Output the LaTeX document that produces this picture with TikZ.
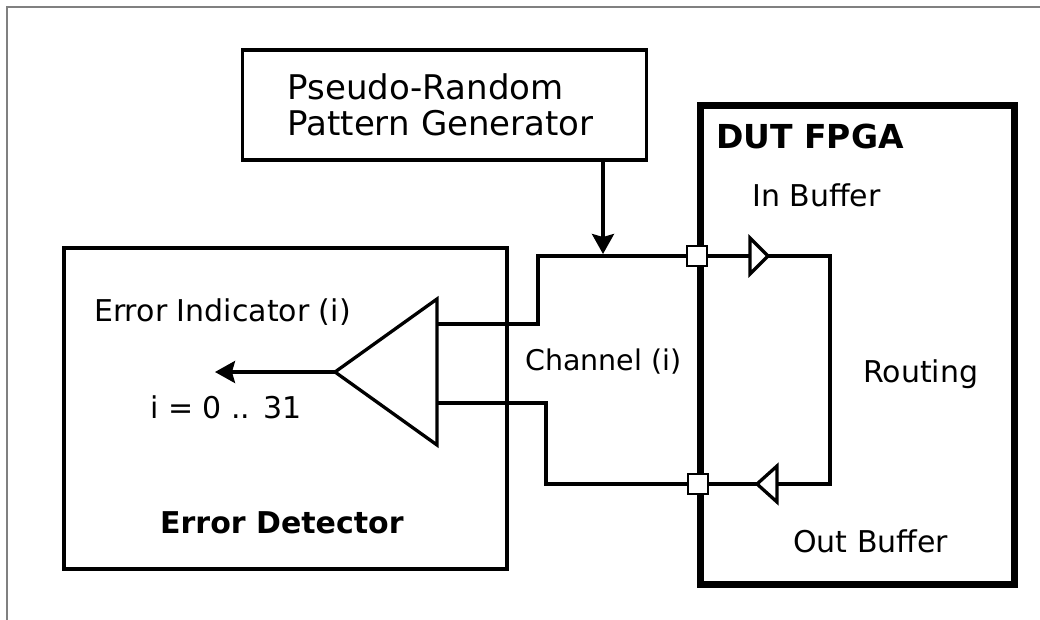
\documentclass[tikz,border=0pt]{standalone}
\usepackage{fontspec}
\setmainfont{DejaVu Sans}
\usetikzlibrary{arrows.meta}

\begin{document}
\begin{tikzpicture}
          [x = 1pt, y = -1pt, >= {Stealth[length=20pt, width=22pt, inset=3pt]},
           wire/.style = {line width = 3.3pt},
           blk/.style = {draw, line width = 3.3pt, inner sep = 0pt},
           lbl/.style = {font = \fontsize{30}{36}\selectfont, anchor = base west, inner sep = 0pt},
           pad/.style = {draw, fill = white, line width = 2.8pt, minimum size = 20pt, inner sep = 0pt}]
          \useasboundingbox (0,0) rectangle (1040,620);
          \draw[gray, line width = 1.5pt] (7,620) -- (7,7) -- (1040,7);
          % blocks
          \node[blk, minimum width = 404pt, minimum height = 110pt, text width = 314pt, inner xsep = 45pt,
                align = left, font = \fontsize{34}{36}\selectfont] (prpg) at (444.5,105)
                {Pseudo-Random\\Pattern Generator};
          \node[blk, minimum width = 443pt, minimum height = 321pt] (errdet) at (285.5,408.5) {};
          \node[draw, line width = 7pt, minimum width = 314pt, minimum height = 479pt] (dut) at (857.5,345) {};
          % labels
          \node[lbl, font = \fontsize{33}{36}\selectfont\bfseries] (dutlbl) at (716,149) {DUT FPGA};
          \node[lbl] (inbuflbl) at (752,207) {In Buffer};
          \node[lbl] (routlbl) at (863,382) {Routing};
          \node[lbl] (outbuflbl) at (793,552) {Out Buffer};
          \node[lbl, font = \fontsize{28.5}{36}\selectfont] (chlbl) at (525,370) {Channel (i)};
          \node[lbl] (errindlbl) at (94,321) {Error Indicator (i)};
          \node[lbl] (rangelbl) at (150,418) {i = 0 .. 31};
          \node[lbl, font = \fontsize{30}{36}\selectfont\bfseries] (errdetlbl) at (160,533) {Error Detector};
          % comparator
          \coordinate (amp) at (335,372);
          \coordinate (ampa) at (437,324);
          \coordinate (ampb) at (437,403);
          \coordinate (errout) at (215,372);
          \draw[wire] (amp) -- (437,299) -- (437,445) -- cycle;
          \draw[wire, ->] (amp) -- (errout);
          % pins of the FPGA
          \node[pad] (padin) at (697,256) {};
          \node[pad] (padout) at (698,484) {};
          % channel
          \coordinate (inj) at (603,256);
          \draw[wire] (ampa) -- ++(101,0) |- (padin.west);
          \draw[wire] (ampb) -- ++(109,0) |- (padout.west);
          \draw[wire, ->] (prpg.south -| inj) -- ([yshift = 2pt]inj);
          % buffers and routing
          \coordinate (ibuf) at (750,256);
          \coordinate (obuf) at (777,484);
          \draw[wire] (padin.east) -- (ibuf);
          \draw[wire] (ibuf) ++(0,-18) -- ++(18,18) -- ++(-18,18) -- cycle;
          \draw[wire] (768,256) -- (830,256) -- (830,484) -- (obuf);
          \draw[wire] (obuf) ++(0,-18) -- ++(-20,18) -- ++(20,18) -- cycle;
          \draw[wire] (757,484) -- (padout.east);
        \end{tikzpicture}
\end{document}
